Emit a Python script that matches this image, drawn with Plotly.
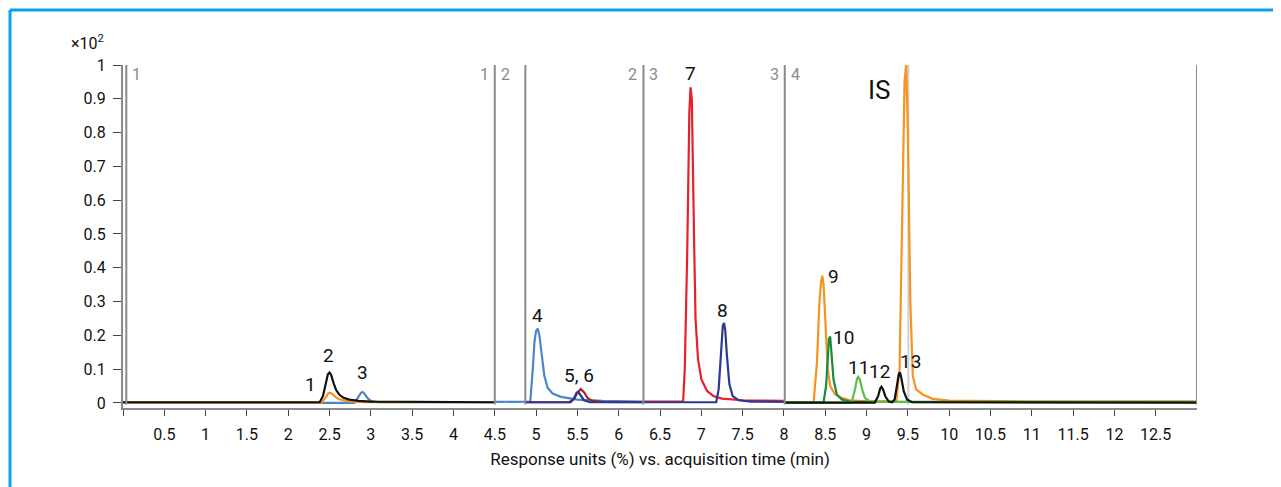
import plotly.graph_objects as go

# ---------------- data ----------------
# Segment 1
seg1_black_t = [0, 2.38, 2.42, 2.45, 2.48, 2.5, 2.52, 2.55, 2.58, 2.62, 2.67, 2.74, 2.85, 3.0, 3.5, 4.0, 4.5]
seg1_black_r = [0.002, 0.002, 0.02, 0.055, 0.085, 0.09, 0.083, 0.058, 0.038, 0.024, 0.015, 0.01, 0.006, 0.004, 0.003, 0.003, 0.002]
seg1_orange_t = [0, 2.4, 2.45, 2.48, 2.5, 2.53, 2.57, 2.62, 2.7, 2.8, 3.0, 4.5]
seg1_orange_r = [0.001, 0.001, 0.015, 0.027, 0.03, 0.027, 0.018, 0.011, 0.006, 0.003, 0.002, 0.002]
seg1_blue_t = [0, 2.8, 2.85, 2.88, 2.9, 2.92, 2.96, 3.0, 3.1, 4.5]
seg1_blue_r = [0.0, 0.0, 0.018, 0.03, 0.032, 0.028, 0.014, 0.006, 0.002, 0.002]

# Segment 2
seg2_blue_t = [4.5, 4.93, 4.96, 4.98, 5.0, 5.02, 5.04, 5.07, 5.1, 5.14, 5.2, 5.3, 5.5, 5.8, 6.0, 6.3]
seg2_blue_r = [0.003, 0.004, 0.1, 0.18, 0.213, 0.22, 0.2, 0.14, 0.08, 0.045, 0.028, 0.018, 0.01, 0.006, 0.005, 0.004]
seg2_darkred_t = [4.87, 5.4, 5.46, 5.5, 5.54, 5.58, 5.62, 5.67, 5.8, 6.3]
seg2_darkred_r = [0.002, 0.002, 0.012, 0.03, 0.041, 0.032, 0.016, 0.007, 0.003, 0.002]
seg2_navy_t = [4.87, 5.42, 5.46, 5.49, 5.51, 5.54, 5.58, 5.65, 6.3]
seg2_navy_r = [0.002, 0.002, 0.014, 0.03, 0.033, 0.022, 0.008, 0.002, 0.002]

# Segment 3
seg3_red_t = [6.3, 6.78, 6.80, 6.83, 6.855, 6.87, 6.885, 6.9, 6.915, 6.93, 6.96, 7.0, 7.07, 7.15, 7.25, 7.5, 8.0]
seg3_red_r = [0.004, 0.004, 0.1, 0.45, 0.86, 0.934, 0.9, 0.72, 0.45, 0.25, 0.13, 0.07, 0.035, 0.02, 0.013, 0.008, 0.006]
seg3_navy_t = [6.3, 7.18, 7.21, 7.24, 7.26, 7.275, 7.29, 7.31, 7.34, 7.38, 7.45, 7.6, 8.0]
seg3_navy_r = [0.002, 0.002, 0.04, 0.16, 0.228, 0.237, 0.215, 0.14, 0.055, 0.02, 0.008, 0.004, 0.003]

# Segment 4
seg4_orange_t = [8.0, 8.36, 8.4, 8.43, 8.45, 8.465, 8.48, 8.5, 8.53, 8.56, 8.62, 8.7, 8.8, 9.0, 9.36, 9.4, 9.43,
                 9.46, 9.48, 9.5, 9.53, 9.56, 9.6, 9.68, 9.8, 10.0, 11.0, 12.0, 13.0]
seg4_orange_r = [0.002, 0.003, 0.12, 0.3, 0.36, 0.376, 0.35, 0.25, 0.1, 0.05, 0.025, 0.015, 0.008, 0.005, 0.005, 0.1, 0.55,
                 0.95, 1.0, 0.8, 0.3, 0.08, 0.04, 0.025, 0.012, 0.007, 0.004, 0.004, 0.004]
seg4_dkgreen_t = [8.0, 8.48, 8.51, 8.53, 8.545, 8.56, 8.58, 8.6, 8.64, 8.7, 8.8, 13.0]
seg4_dkgreen_r = [0.002, 0.002, 0.05, 0.15, 0.19, 0.196, 0.14, 0.07, 0.025, 0.01, 0.004, 0.003]
seg4_ltgreen_t = [8.0, 8.82, 8.86, 8.885, 8.9, 8.92, 8.95, 8.98, 9.05, 13.0]
seg4_ltgreen_r = [0.001, 0.001, 0.04, 0.072, 0.077, 0.068, 0.038, 0.015, 0.003, 0.002]
seg4_black_t = [8.0, 9.1, 9.14, 9.165, 9.18, 9.2, 9.23, 9.27, 9.31, 9.34, 9.37, 9.39, 9.405, 9.42, 9.45, 9.49, 9.55, 13.0]
seg4_black_r = [0.001, 0.001, 0.02, 0.043, 0.048, 0.04, 0.018, 0.004, 0.002, 0.01, 0.055, 0.085, 0.09, 0.075, 0.035, 0.01, 0.002, 0.001]

# Segment boundaries and labels
seg_lines = [0.04, 4.5, 4.87, 6.3, 8.01, 13.0]
seg_label_x = [0.04, 4.5, 4.5, 6.3, 6.3, 8.01, 8.01]
seg_label_text = ["1", "1", "2", "2", "3", "3", "4"]
seg_label_side = ["r", "l", "r", "l", "r", "l", "r"]
marker_line_x = 9.506

# Peak labels
peak_text = ["1", "2", "3", "4", "5, 6", "7", "8", "9", "10", "11", "12", "13"]
peak_x = [2.27, 2.49, 2.9, 5.02, 5.52, 6.87, 7.26, 8.6, 8.72, 8.9, 9.16, 9.53]
peak_y = [0.055, 0.14, 0.09, 0.26, 0.08, 0.975, 0.275, 0.373, 0.195, 0.104, 0.092, 0.124]
is_label = ("IS", 9.16, 0.926)

# Axis ticks
x_tickvals = [i * 0.5 for i in range(26)]
x_ticktext = [""] + [("%g" % v) for v in x_tickvals[1:]]
y_tickvals = [i / 10 for i in range(11)]
y_ticktext = ["0", "0.1", "0.2", "0.3", "0.4", "0.5", "0.6", "0.7", "0.8", "0.9", "1"]

# ---------------- styling ----------------
FONT = "Roboto, sans-serif"
GRAY = "#8a8a8a"
BLUE = "#4a86c8"
ORANGE = "#f7931e"
BLACK = "#111111"
DARKRED = "#a8232e"
NAVY = "#2b3a8f"
RED = "#e8202a"
DKGREEN = "#1b8a3e"
LTGREEN = "#5cbf46"

traces = [
    (seg1_blue_t, seg1_blue_r, BLUE),
    (seg1_orange_t, seg1_orange_r, ORANGE),
    (seg1_black_t, seg1_black_r, BLACK),
    (seg2_blue_t, seg2_blue_r, BLUE),
    (seg2_darkred_t, seg2_darkred_r, DARKRED),
    (seg2_navy_t, seg2_navy_r, NAVY),
    (seg3_red_t, seg3_red_r, RED),
    (seg3_navy_t, seg3_navy_r, NAVY),
    (seg4_orange_t, seg4_orange_r, ORANGE),
    (seg4_dkgreen_t, seg4_dkgreen_r, DKGREEN),
    (seg4_ltgreen_t, seg4_ltgreen_r, LTGREEN),
    (seg4_black_t, seg4_black_r, BLACK),
]

fig = go.Figure()
for t, r, c in traces:
    fig.add_trace(go.Scatter(x=t, y=r, mode="lines",
                             line=dict(color=c, width=2.2),
                             showlegend=False, hoverinfo="skip", cliponaxis=True))

shapes = []
for xv in seg_lines:
    shapes.append(dict(type="line", xref="x", yref="y", x0=xv, x1=xv, y0=-0.005, y1=1.0,
                       line=dict(color=GRAY, width=2), layer="above"))
shapes.append(dict(type="line", xref="x", yref="y", x0=marker_line_x, x1=marker_line_x, y0=-0.005, y1=1.0,
                   line=dict(color="#d0d0d0", width=2), layer="below"))
# outer light-blue frame (top and left edges)
shapes.append(dict(type="line", xref="paper", yref="paper", x0=-0.1052, x1=1.2, y0=1.1603, y1=1.1603,
                   line=dict(color="#0aa3e0", width=3)))
shapes.append(dict(type="line", xref="paper", yref="paper", x0=-0.1052, x1=-0.1052, y0=1.1603, y1=-0.3,
                   line=dict(color="#0aa3e0", width=3)))

annotations = []
for xv, txt, side in zip(seg_label_x, seg_label_text, seg_label_side):
    annotations.append(dict(x=xv, y=1.0, xref="x", yref="y", text=txt, showarrow=False,
                            xanchor="left" if side == "r" else "right", yanchor="top",
                            xshift=4 if side == "r" else -4, yshift=2,
                            font=dict(family=FONT, size=16, color=GRAY)))
for txt, xv, yv in zip(peak_text, peak_x, peak_y):
    annotations.append(dict(x=xv, y=yv, xref="x", yref="y", text=txt, showarrow=False,
                            xanchor="center", yanchor="middle",
                            font=dict(family=FONT, size=19, color=BLACK)))
annotations.append(dict(x=is_label[1], y=is_label[2], xref="x", yref="y", text=is_label[0],
                        showarrow=False, xanchor="center", yanchor="middle",
                        font=dict(family=FONT, size=26, color=BLACK)))
annotations.append(dict(x=-0.0326, y=1.067, xref="paper", yref="paper", text="×10<sup>2</sup>",
                        showarrow=False, xanchor="center", yanchor="middle",
                        font=dict(family=FONT, size=16, color=BLACK)))

fig.update_layout(
    width=1273, height=479,
    margin=dict(l=115, r=84, t=57, b=79),
    paper_bgcolor="white", plot_bgcolor="white",
    font=dict(family=FONT, size=16, color=BLACK),
    shapes=shapes, annotations=annotations,
    xaxis=dict(range=[0, 13.0], tickvals=x_tickvals, ticktext=x_ticktext,
               showgrid=False, zeroline=False, showline=True, linecolor=GRAY, linewidth=2,
               ticks="outside", ticklen=6, tickcolor="#444", tickwidth=1,
               ticklabelstandoff=5, tickfont=dict(family=FONT, size=16, color=BLACK),
               title=dict(text="Response units (%) vs. acquisition time (min)",
                          font=dict(family=FONT, size=17, color=BLACK), standoff=10)),
    yaxis=dict(range=[-0.015, 1.0], tickvals=y_tickvals, ticktext=y_ticktext,
               showgrid=False, zeroline=False, showline=True, linecolor=GRAY, linewidth=2,
               ticks="outside", ticklen=8, tickcolor="#444", tickwidth=1,
               ticklabelstandoff=4, tickfont=dict(family=FONT, size=16, color=BLACK)),
)

fig.write_html("out.html")
